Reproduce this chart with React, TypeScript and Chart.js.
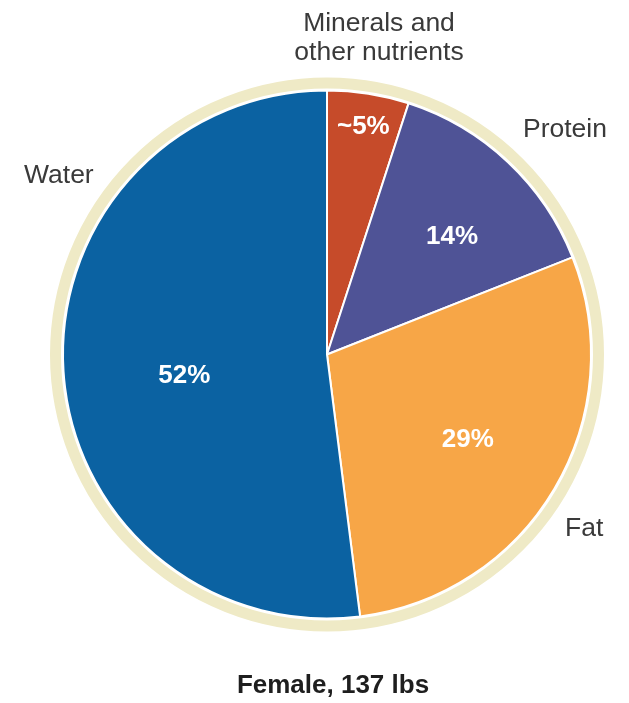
import React, { useEffect, useRef } from "react";
import { Chart, registerables } from "chart.js";

Chart.register(...registerables);

// ---- data ----
const categories = ["Minerals and other nutrients", "Protein", "Fat", "Water"];
const values = [5, 14, 29, 52];
const valueLabels = ["~5%", "14%", "29%", "52%"];
const outerLabelLines = [["Minerals and", "other nutrients"], ["Protein"], ["Fat"], ["Water"]];
const chartTitle = "Female, 137 lbs";

// ---- styles ----
const sliceColors = ["#c64b2a", "#4f5396", "#f7a647", "#0b62a2"];
const ringColor = "#efeac6";
const labelRadiusFrac = [0.88, 0.656, 0.62, 0.545];
const labelAngleOffsetDeg = [0, 3, 0, -4];
// outer label placement relative to pie centre: [dx, dy of first baseline, align]
const outerLabelPlacement: [number, number, CanvasTextAlign][] = [
  [52, -323.5, "center"],
  [196, -217.5, "left"],
  [238, 181.5, "left"],
  [-303, -171.5, "left"],
];
const FONT = "'Liberation Sans', Arial, Helvetica, sans-serif";

const decorPlugin = {
  id: "decor",
  beforeDatasetsDraw(chart: any) {
    const arc = chart.getDatasetMeta(0).data[0];
    if (!arc) return;
    const { x, y, outerRadius } = arc.getProps(["x", "y", "outerRadius"], true);
    const ctx = chart.ctx;
    ctx.save();
    ctx.beginPath();
    ctx.arc(x, y, outerRadius + 7.5, 0, Math.PI * 2);
    ctx.strokeStyle = ringColor;
    ctx.lineWidth = 11;
    ctx.stroke();
    ctx.restore();
  },
  afterDatasetsDraw(chart: any) {
    const meta = chart.getDatasetMeta(0);
    const ctx = chart.ctx;
    const first = meta.data[0];
    if (!first) return;
    const cx = first.x;
    const cy = first.y;
    ctx.save();
    // inner value labels
    const innerSize = 26;
    ctx.font = `bold ${innerSize}px ${FONT}`;
    ctx.fillStyle = "#ffffff";
    ctx.textAlign = "center";
    ctx.textBaseline = "alphabetic";
    meta.data.forEach((el: any, i: number) => {
      const { startAngle, endAngle, outerRadius } = el.getProps(
        ["startAngle", "endAngle", "outerRadius"],
        true
      );
      const mid = (startAngle + endAngle) / 2 + (labelAngleOffsetDeg[i] * Math.PI) / 180;
      const r = outerRadius * labelRadiusFrac[i];
      const lx = cx + Math.cos(mid) * r;
      const ly = cy + Math.sin(mid) * r;
      ctx.fillText(valueLabels[i], lx, ly + innerSize * 0.716 / 2);
    });
    // outer category labels
    ctx.font = `normal 26.5px ${FONT}`;
    ctx.fillStyle = "#3a3a3a";
    outerLabelLines.forEach((lines, i) => {
      const [dx, dy, align] = outerLabelPlacement[i];
      ctx.textAlign = align;
      lines.forEach((line, j) => {
        ctx.fillText(line, cx + dx, cy + dy + j * 29);
      });
    });
    // title
    ctx.font = `bold 26px ${FONT}`;
    ctx.fillStyle = "#1e1e1e";
    ctx.textAlign = "center";
    ctx.fillText(chartTitle, cx + 6, cy + 338.5);
    ctx.restore();
  },
};

export default function App() {
  const canvasRef = useRef<HTMLCanvasElement | null>(null);

  useEffect(() => {
    if (!canvasRef.current) return;
    const chart = new Chart(canvasRef.current, {
      type: "pie",
      data: {
        labels: categories,
        datasets: [
          {
            data: values,
            backgroundColor: sliceColors,
            borderColor: "#ffffff",
            borderWidth: 2,
          },
        ],
      },
      options: {
        responsive: false,
        animation: false,
        radius: 264,
        layout: { padding: { left: 25, top: 6 } },
        plugins: {
          legend: { display: false },
          tooltip: { enabled: false },
          title: { display: false },
        },
      } as any,
      plugins: [decorPlugin],
    });
    return () => chart.destroy();
  }, []);

  return (
    <div style={{ position: "absolute", left: 0, top: 0, width: 629, height: 703, background: "#ffffff" }}>
      <canvas ref={canvasRef} width={629} height={703} style={{ display: "block" }} />
    </div>
  );
}
